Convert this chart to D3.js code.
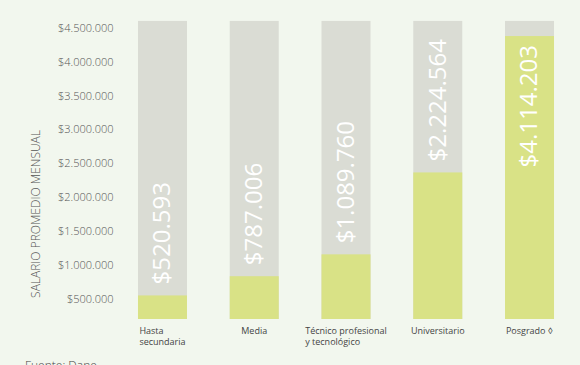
<!DOCTYPE html>
<html>
<head>
<meta charset="utf-8">
<script src="https://cdn.jsdelivr.net/npm/d3@7"></script>
<style>
  body { margin: 0; background: #f2f7ee; }
  svg { display: block; font-family: "Open Sans", sans-serif; }
</style>
</head>
<body>
<div id="chart"></div>
<script>
// data
let categories = ["Hasta secundaria", "Media", "Técnico profesional y tecnológico", "Universitario", "Posgrado"];
let categoryLines = [["Hasta", "secundaria"], ["Media"], ["Técnico profesional", "y tecnológico"], ["Universitario"], ["Posgrado ◊"]];
let salaries = [520593, 787006, 1089760, 2224564, 4114203];
let tickValues = [500000, 1000000, 1500000, 2000000, 2500000, 3000000, 3500000, 4000000, 4500000];
let backgroundMax = 4600000;

let width = 580, height = 365;
let baseline = 319;

let svg = d3.select("#chart").append("svg")
    .attr("width", width)
    .attr("height", height);

// format like $4.500.000
let money = v => "$" + d3.format(",")(v).replace(/,/g, ".");

let x = d3.scaleBand()
    .domain(categories)
    .range([116.6, 575.4])
    .paddingInner(0.466)
    .paddingOuter(0.233);

// axis scale (tick positions)
let yAxis = d3.scaleLinear()
    .domain([500000, 4500000])
    .range([299, 27.7]);

// bars in the original are drawn a bit steeper than the axis
let yBar = d3.scaleLinear()
    .domain([0, 4500000])
    .range([333, 8.2]);

// y axis labels
let axis = d3.axisLeft(yAxis)
    .tickValues(tickValues)
    .tickFormat(money)
    .tickSize(0)
    .tickPadding(0);

let axisG = svg.append("g")
    .attr("transform", "translate(113.5,0)")
    .call(axis);
axisG.select(".domain").remove();
axisG.selectAll("text")
    .attr("font-family", "'Open Sans', sans-serif")
    .attr("font-size", 11)
    .attr("font-weight", 300)
    .attr("fill", "#555");

// axis title
svg.append("text")
    .attr("transform", "translate(40,214) rotate(-90)")
    .attr("text-anchor", "middle")
    .attr("font-size", 12)
    .attr("font-weight", 300)
    .attr("fill", "#555")
    .text("SALARIO PROMEDIO MENSUAL");

// grey background bars
svg.selectAll(".bg")
    .data(categories)
    .enter().append("rect")
    .attr("class", "bg")
    .attr("x", d => x(d))
    .attr("y", yAxis(backgroundMax))
    .attr("width", x.bandwidth())
    .attr("height", baseline - yAxis(backgroundMax))
    .attr("fill", "#dadcd4");

// green value bars
svg.selectAll(".bar")
    .data(salaries)
    .enter().append("rect")
    .attr("class", "bar")
    .attr("x", (d, i) => x(categories[i]))
    .attr("y", d => yBar(d))
    .attr("width", x.bandwidth())
    .attr("height", d => baseline - yBar(d))
    .attr("fill", "#d9e286");

// value labels (rotated, white)
svg.selectAll(".val")
    .data(salaries)
    .enter().append("text")
    .attr("class", "val")
    .attr("transform", (d, i) => {
        let cx = x(categories[i]) + x.bandwidth() / 2;
        let inside = yBar(d) < 150;
        let y = inside ? yBar(d) + 9 : yBar(d) - 11;
        return "translate(" + cx + "," + y + ") rotate(-90)";
    })
    .attr("text-anchor", d => yBar(d) < 150 ? "end" : "start")
    .attr("dy", "0.33em")
    .attr("font-size", 24)
    .attr("fill", "#ffffff")
    .text(d => money(d));

// category labels, left aligned block centred under the bar
let catG = svg.selectAll(".cat")
    .data(categoryLines)
    .enter().append("text")
    .attr("class", "cat")
    .attr("font-size", 9)
    .attr("fill", "#444");

catG.selectAll("tspan")
    .data(d => d)
    .enter().append("tspan")
    .attr("y", (d, j) => 333.5 + j * 11)
    .text(d => d);

catG.each(function(d, i) {
    let widest = 0;
    d3.select(this).selectAll("tspan").each(function() {
        widest = Math.max(widest, this.getComputedTextLength());
    });
    let left = x(categories[i]) + x.bandwidth() / 2 - widest / 2;
    d3.select(this).selectAll("tspan").attr("x", left);
});

// source (cut off at the bottom edge like the original)
svg.append("text")
    .attr("x", 25)
    .attr("y", 370)
    .attr("font-size", 12)
    .attr("font-weight", 300)
    .attr("fill", "#444")
    .text("Fuente: Dane");
</script>
</body>
</html>
